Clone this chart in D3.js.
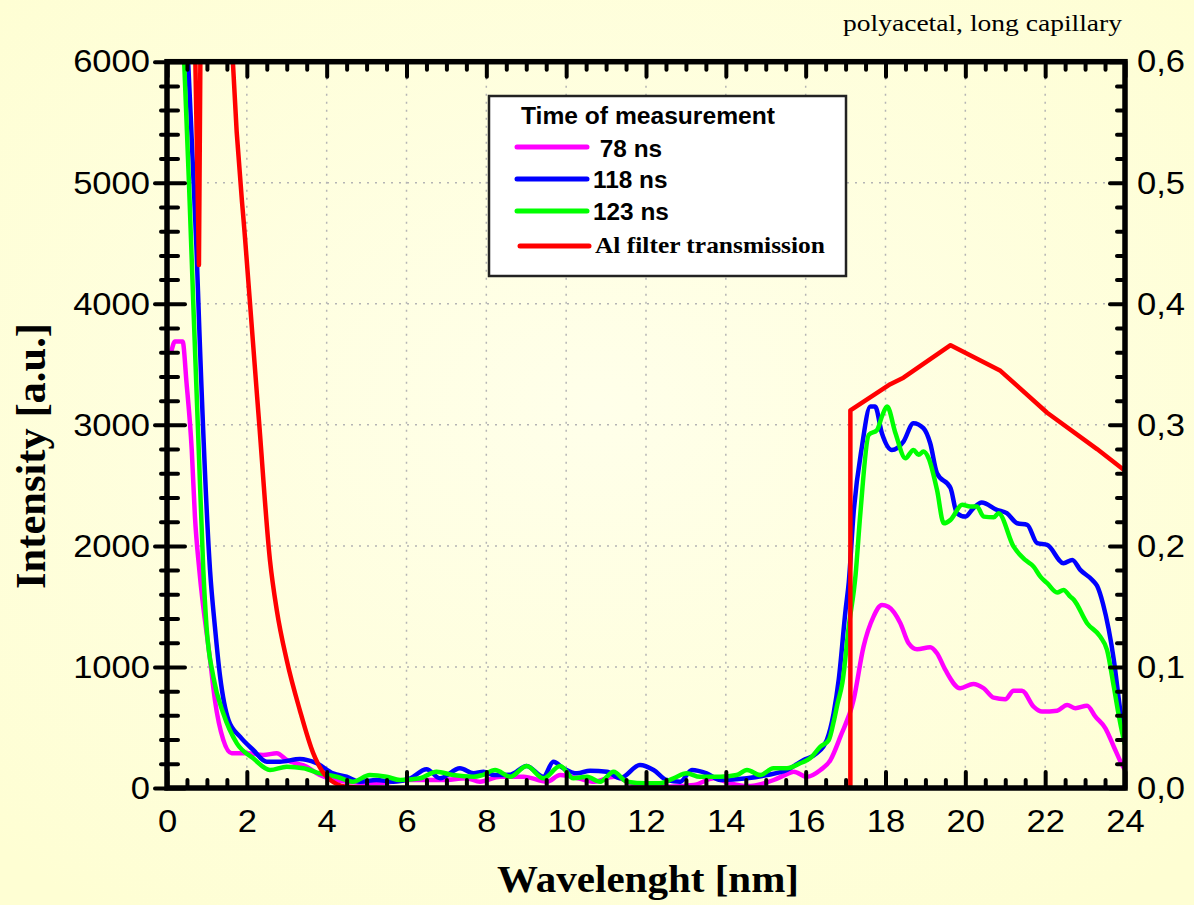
<!DOCTYPE html>
<html>
<head>
<meta charset="utf-8">
<script src="https://cdn.jsdelivr.net/npm/d3@7"></script>
<style>
  body { margin: 0; background: #fefed6; }
  svg { display: block; }
</style>
</head>
<body>
<script>

// ---- data ----
var xTicks = [0, 2, 4, 6, 8, 10, 12, 14, 16, 18, 20, 22, 24];
var yTicks = [0, 1000, 2000, 3000, 4000, 5000, 6000];
var y2Ticks = [0, 0.1, 0.2, 0.3, 0.4, 0.5, 0.6];

// 78 ns
var t78Nm  = [0.12, 0.2, 0.39, 0.49, 0.62, 0.70, 0.81, 1.08, 1.2, 1.41, 1.62, 2.0, 2.41, 2.75, 3.0, 3.5, 3.83, 4.5, 5.25, 6.1, 6.9, 7.5, 7.84, 8.35, 8.93, 9.52, 9.85, 10.3, 10.7, 11.2, 11.77, 12.52, 13.2, 13.7, 14.1, 14.53, 15.2, 15.5, 15.7, 16.03, 16.37, 16.62, 16.87, 17.2, 17.45, 17.7, 17.91, 18.07, 18.37, 18.58, 18.79, 19.12, 19.29, 19.5, 19.87, 20.2, 20.46, 20.71, 21.0, 21.21, 21.42, 21.71, 21.92, 22.3, 22.55, 22.76, 23.05, 23.26, 23.51, 23.72, 23.93, 24.0];
var t78Int = [3620, 3689, 3689, 3345, 2793, 2242, 1800, 1058, 727, 397, 287, 287, 273, 287, 231, 176, 107, 52, 39, 66, 66, 80, 52, 93, 93, 52, 107, 80, 52, 93, 25, 11, 25, 80, 40, 16, 66, 110, 135, 93, 149, 231, 424, 727, 1168, 1416, 1512, 1498, 1364, 1196, 1146, 1163, 1113, 975, 824, 860, 824, 746, 733, 804, 804, 672, 631, 639, 686, 659, 680, 589, 493, 341, 190, 150];

// 118 ns
var t118Nm  = [0.4, 0.53, 0.74, 0.81, 1.08, 1.2, 1.33, 1.54, 1.83, 2.16, 2.5, 2.83, 3.33, 3.75, 4.16, 4.5, 4.83, 5.25, 5.67, 6.1, 6.5, 6.84, 7.34, 7.68, 7.93, 8.2, 8.6, 9.01, 9.43, 9.68, 9.93, 10.27, 10.6, 11.02, 11.35, 11.85, 12.19, 12.52, 12.86, 13.15, 13.52, 13.86, 14.53, 15.03, 15.53, 15.95, 16.28, 16.53, 16.7, 16.83, 17.0, 17.08, 17.2, 17.41, 17.62, 17.74, 17.91, 18.16, 18.45, 18.7, 18.95, 19.12, 19.29, 19.63, 19.79, 20.0, 20.2, 20.41, 20.79, 21.04, 21.3, 21.55, 21.8, 22.05, 22.46, 22.68, 22.88, 23.18, 23.3, 23.45, 23.72, 23.88, 24.0];
var t118Int = [6960, 6000, 4446, 3785, 1790, 1333, 920, 562, 424, 314, 217, 217, 240, 204, 121, 93, 52, 66, 52, 80, 155, 80, 163, 121, 135, 107, 110, 182, 93, 217, 163, 121, 143, 135, 80, 190, 149, 66, 52, 149, 121, 66, 80, 107, 149, 231, 287, 397, 617, 900, 1471, 1700, 2270, 2821, 3151, 3151, 2931, 2793, 2862, 3014, 2973, 2848, 2600, 2477, 2270, 2242, 2311, 2358, 2298, 2270, 2187, 2174, 2022, 2008, 1857, 1884, 1802, 1719, 1670, 1520, 1058, 645, 400];

// 123 ns
var t123Nm  = [0.3, 0.43, 0.55, 0.67, 0.8, 0.91, 0.99, 1.16, 1.41, 1.75, 2.16, 2.58, 3.0, 3.42, 3.83, 4.25, 4.66, 5.08, 5.5, 5.84, 6.34, 6.75, 7.17, 7.68, 7.9, 8.22, 8.6, 9.01, 9.43, 9.85, 10.18, 10.52, 10.85, 11.19, 11.52, 12.02, 12.35, 12.69, 13.02, 13.35, 13.86, 14.27, 14.53, 14.86, 15.19, 15.53, 15.86, 16.11, 16.37, 16.58, 16.7, 16.8, 16.92, 17.08, 17.25, 17.37, 17.58, 17.79, 17.91, 18.04, 18.25, 18.5, 18.7, 18.83, 18.95, 19.08, 19.29, 19.46, 19.63, 19.92, 20.12, 20.29, 20.46, 20.71, 20.83, 21.21, 21.5, 21.71, 21.88, 22.05, 22.3, 22.46, 22.63, 22.72, 23.05, 23.38, 23.55, 23.72, 23.85, 23.97, 24.0];
var t123Int = [7100, 6000, 5000, 3900, 2750, 1800, 1333, 920, 617, 369, 245, 149, 176, 163, 121, 93, 52, 107, 93, 66, 80, 135, 107, 93, 107, 149, 93, 182, 80, 182, 80, 93, 52, 135, 52, 39, 39, 80, 121, 93, 93, 107, 149, 107, 163, 163, 204, 245, 341, 397, 545, 700, 870, 1333, 1760, 2270, 2917, 2958, 3069, 3151, 2931, 2724, 2793, 2752, 2779, 2724, 2463, 2187, 2215, 2339, 2325, 2325, 2242, 2236, 2270, 1994, 1884, 1829, 1746, 1692, 1615, 1636, 1581, 1554, 1361, 1250, 1140, 837, 589, 397, 360];

// Al filter transmission (right axis), null = gap between segments
var alNm = [0.70, 0.80, 0.84, null, 1.6, 1.65, 1.98, 2.31, 2.58, 2.75, 3.0, 3.33, 3.66, 4.0, 4.5, 5.08, null, 16.0, 17.12, 17.12, 18.12, 18.45, 19.63, 20.88, 22.05, 23.3, 24.0];
var alT  = [0.62, 0.432, 0.62, null, 0.64, 0.6, 0.4435, 0.301, 0.188, 0.147, 0.1055, 0.064, 0.029, 0.0093, 0.001, 0, null, 0, 0, 0.312, 0.3336, 0.339, 0.3658, 0.3446, 0.310, 0.280, 0.262];

var legendLabels = [" 78 ns", "118 ns", "123 ns", "Al filter transmission"];
var colors = ["#ff00ff", "#0000ff", "#00ff00", "#ff0000"];

// ---- layout ----
var w = 1194, h = 905;
var padL = 167, padR = 1125, padT = 61.7, padB = 788;

var svg = d3.select("body").append("svg")
  .attr("width", w)
  .attr("height", h);

var defs = svg.append("defs");
var grad = defs.append("radialGradient").attr("id", "bg")
  .attr("cx", "50%").attr("cy", "45%").attr("r", "70%");
grad.append("stop").attr("offset", "0%").attr("stop-color", "#ffffea");
grad.append("stop").attr("offset", "100%").attr("stop-color", "#fefed3");
defs.append("clipPath").attr("id", "plot")
  .append("rect")
  .attr("x", padL).attr("y", padT)
  .attr("width", padR - padL).attr("height", padB - padT);

svg.append("rect")
  .attr("width", w).attr("height", h)
  .attr("fill", "url(#bg)");

var x = d3.scaleLinear().domain([0, 24]).range([padL, padR]);
var y = d3.scaleLinear().domain([0, 6000]).range([padB, padT]);
var y2 = d3.scaleLinear().domain([0, 0.6]).range([padB, padT]);

// stretch text a bit wider, the original is drawn wider than tall
function stretch(sel, k) {
  sel.each(function() {
    var len = this.getComputedTextLength();
    d3.select(this).attr("textLength", len * k).attr("lengthAdjust", "spacingAndGlyphs");
  });
}

// grid
var grid = svg.append("g")
  .attr("stroke", "#b4b4b4")
  .attr("stroke-width", 1.5)
  .attr("stroke-dasharray", "2,6");
grid.selectAll(".gx")
  .data(xTicks.slice(1, -1))
  .enter().append("line")
  .attr("x1", function(d) { return x(d); })
  .attr("x2", function(d) { return x(d); })
  .attr("y1", padT).attr("y2", padB);
grid.selectAll(".gy")
  .data(yTicks.slice(1, -1))
  .enter().append("line")
  .attr("y1", function(d) { return y(d); })
  .attr("y2", function(d) { return y(d); })
  .attr("x1", padL).attr("x2", padR);

// series
function zip(xs, ys) {
  return xs.map(function(v, i) { return [v, ys[i]]; });
}
var series = [zip(t78Nm, t78Int), zip(t118Nm, t118Int), zip(t123Nm, t123Int)];

var line = d3.line()
  .x(function(d) { return x(d[0]); })
  .y(function(d) { return y(d[1]); })
  .curve(d3.curveMonotoneX);

var plot = svg.append("g").attr("clip-path", "url(#plot)");

plot.selectAll(".series")
  .data(series)
  .enter().append("path")
  .attr("d", line)
  .attr("fill", "none")
  .attr("stroke", function(d, i) { return colors[i]; })
  .attr("stroke-width", 4.5)
  .attr("stroke-linejoin", "round")
  .attr("stroke-linecap", "round");

// split the filter curve at the nulls; the falling edge is drawn smooth
var alSegs = [[]];
zip(alNm, alT).forEach(function(d) {
  if (d[0] === null) alSegs.push([]);
  else alSegs[alSegs.length - 1].push(d);
});

plot.selectAll(".al")
  .data(alSegs)
  .enter().append("path")
  .attr("d", function(d, i) {
    return d3.line()
      .x(function(p) { return x(p[0]); })
      .y(function(p) { return y2(p[1]); })
      .curve(i === 1 ? d3.curveMonotoneX : d3.curveLinear)(d);
  })
  .attr("fill", "none")
  .attr("stroke", colors[3])
  .attr("stroke-width", 4.5)
  .attr("stroke-linejoin", "round")
  .attr("stroke-linecap", "round");

// axes
var minorX = d3.range(0, 24.01, 0.5).filter(function(d) { return d % 2 !== 0; });
var minorY = d3.range(0, 6001, 200).filter(function(d) { return d % 1000 !== 0; });
var minorY2 = d3.range(0, 61, 2).map(function(d) { return d / 100; }).filter(function(d, i) { return i % 5 !== 0; });

function styleAxis(g) {
  g.select(".domain").remove();
  g.selectAll("line")
    .attr("stroke", "#000")
    .attr("stroke-width", 4)
    .attr("stroke-linecap", "round");
  g.selectAll("text")
    .attr("fill", "#000")
    .attr("font-family", "'Liberation Sans', Arial, sans-serif")
    .attr("font-size", 32);
}

var fmtComma = function(d) { return d3.format(".1f")(d).replace(".", ","); };

// left
var gLeft = svg.append("g").attr("transform", "translate(" + padL + ",0)")
  .call(d3.axisLeft(y).tickValues(yTicks).tickSize(-18).tickPadding(17).tickFormat(d3.format("d")))
  .call(styleAxis);
gLeft.selectAll(".tick").append("line").attr("x1", -12).attr("x2", 0)
  .attr("stroke", "#000").attr("stroke-width", 4).attr("stroke-linecap", "round");
var gLeftMinor = svg.append("g").attr("transform", "translate(" + padL + ",0)")
  .call(d3.axisLeft(y).tickValues(minorY).tickSize(-11).tickFormat(""))
  .call(styleAxis);
gLeftMinor.selectAll(".tick").append("line").attr("x1", -6).attr("x2", 0)
  .attr("stroke", "#000").attr("stroke-width", 4).attr("stroke-linecap", "round");

// right
svg.append("g").attr("transform", "translate(" + padR + ",0)")
  .call(d3.axisRight(y2).tickValues(y2Ticks).tickSize(-15).tickPadding(12).tickFormat(fmtComma))
  .call(styleAxis);
svg.append("g").attr("transform", "translate(" + padR + ",0)")
  .call(d3.axisRight(y2).tickValues(minorY2).tickSize(-8).tickFormat(""))
  .call(styleAxis);

// bottom
svg.append("g").attr("transform", "translate(0," + padB + ")")
  .call(d3.axisBottom(x).tickValues(xTicks).tickSize(-16).tickPadding(21))
  .call(styleAxis);
svg.append("g").attr("transform", "translate(0," + padB + ")")
  .call(d3.axisBottom(x).tickValues(minorX).tickSize(-8).tickFormat(""))
  .call(styleAxis);

// top
svg.append("g").attr("transform", "translate(0," + padT + ")")
  .call(d3.axisTop(x).tickValues(xTicks).tickSize(-15).tickFormat(""))
  .call(styleAxis);
svg.append("g").attr("transform", "translate(0," + padT + ")")
  .call(d3.axisTop(x).tickValues(minorX).tickSize(-8).tickFormat(""))
  .call(styleAxis);

stretch(svg.selectAll(".tick text"), 1.08);

// frame
svg.append("rect")
  .attr("x", padL).attr("y", padT)
  .attr("width", padR - padL).attr("height", padB - padT)
  .attr("fill", "none")
  .attr("stroke", "#000")
  .attr("stroke-width", 5.5);

// axis titles
svg.append("text")
  .attr("x", 648).attr("y", 892)
  .attr("text-anchor", "middle")
  .attr("font-family", "'Liberation Serif', 'Times New Roman', serif")
  .attr("font-weight", "bold")
  .attr("font-size", 37)
  .attr("textLength", 302).attr("lengthAdjust", "spacingAndGlyphs")
  .text("Wavelenght [nm]");

svg.append("text")
  .attr("transform", "translate(45,456) rotate(-90)")
  .attr("text-anchor", "middle")
  .attr("font-family", "'Liberation Serif', 'Times New Roman', serif")
  .attr("font-weight", "bold")
  .attr("font-size", 43)
  .attr("textLength", 266).attr("lengthAdjust", "spacingAndGlyphs")
  .text("Intensity [a.u.]");

svg.append("text")
  .attr("x", 1122).attr("y", 31)
  .attr("text-anchor", "end")
  .attr("font-family", "'Liberation Serif', 'Times New Roman', serif")
  .attr("font-size", 24)
  .attr("textLength", 279).attr("lengthAdjust", "spacingAndGlyphs")
  .text("polyacetal, long capillary");

// legend
var legend = svg.append("g");
legend.append("rect")
  .attr("x", 489).attr("y", 96)
  .attr("width", 357).attr("height", 180)
  .attr("fill", "#fff")
  .attr("stroke", "#222")
  .attr("stroke-width", 2.5);
legend.append("text")
  .attr("x", 521).attr("y", 124)
  .attr("font-family", "'Liberation Sans', Arial, sans-serif")
  .attr("font-weight", "bold")
  .attr("font-size", 23)
  .text("Time of measurement")
  .call(stretch, 1.07);

var rowY = [147, 179, 211, 246];
var rowTextY = [157, 188, 220, 253];
var rowTextX = [593, 593, 593, 595];

legend.selectAll(".key")
  .data(legendLabels)
  .enter().append("line")
  .attr("x1", function(d, i) { return i === 3 ? 520 : 517; })
  .attr("x2", function(d, i) { return i === 3 ? 589 : 587; })
  .attr("y1", function(d, i) { return rowY[i]; })
  .attr("y2", function(d, i) { return rowY[i]; })
  .attr("stroke", function(d, i) { return colors[i]; })
  .attr("stroke-width", 5)
  .attr("stroke-linecap", "round");

legend.selectAll(".lab")
  .data(legendLabels)
  .enter().append("text")
  .attr("x", function(d, i) { return rowTextX[i]; })
  .attr("y", function(d, i) { return rowTextY[i]; })
  .attr("xml:space", "preserve")
  .style("white-space", "pre")
  .attr("font-family", function(d, i) {
    return i === 3 ? "'Liberation Serif', 'Times New Roman', serif" : "'Liberation Sans', Arial, sans-serif";
  })
  .attr("font-weight", "bold")
  .attr("font-size", function(d, i) { return i === 3 ? 24 : 23; })
  .text(function(d) { return d; })
  .call(stretch, 1.06);

</script>
</body>
</html>
